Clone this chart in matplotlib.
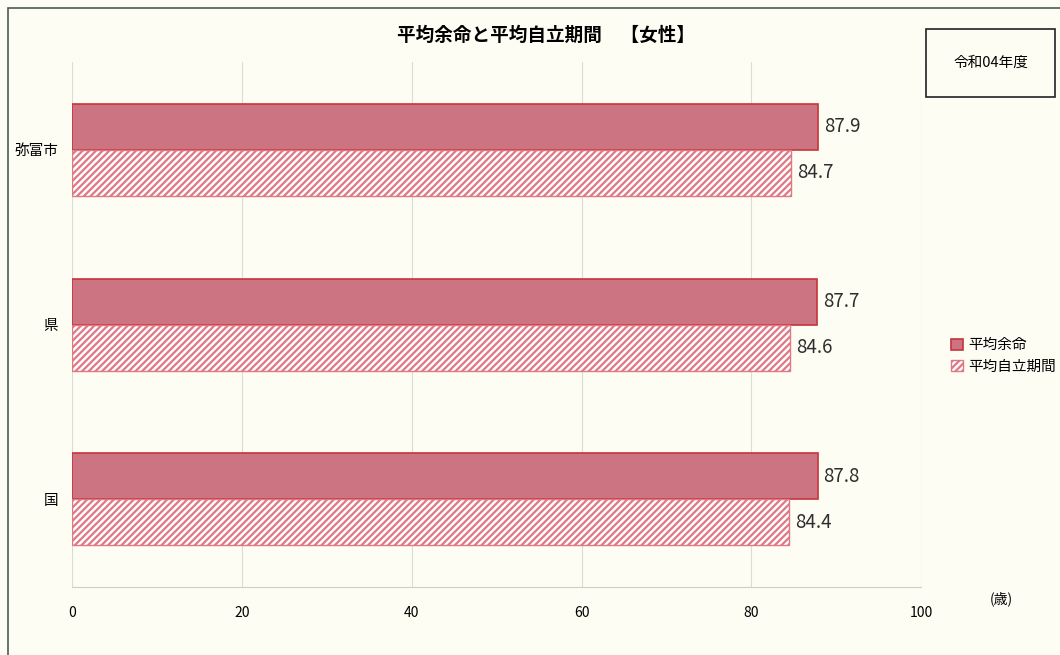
import matplotlib.pyplot as plt
import numpy as np
from matplotlib.patches import Rectangle

plt.rcParams['font.family'] = ['Noto Sans CJK JP', 'DejaVu Sans']
plt.rcParams['hatch.linewidth'] = 1.6

# データ
areas = ['弥富市', '県', '国']
life_exp = [87.9, 87.7, 87.8]      # 平均余命
indep_period = [84.7, 84.6, 84.4]  # 平均自立期間
series_names = ['平均余命', '平均自立期間']
x_ticks = [0, 20, 40, 60, 80, 100]

bg = '#fdfdf4'
fill_col = '#cd7483'
edge_col = '#c8343a'
hatch_col = '#e07884'

fig = plt.figure(figsize=(10.6, 6.55), dpi=100, facecolor=bg)
ax = fig.add_axes([0.068, 0.104, 0.801, 0.801], facecolor=bg)

y = np.arange(len(areas))
h = 0.263
b1 = ax.barh(y - h / 2, life_exp, height=h, color=fill_col, edgecolor=edge_col,
             linewidth=1.2, label=series_names[0])
b2 = ax.barh(y + h / 2, indep_period, height=h, color='white', edgecolor=hatch_col,
             hatch='/////', linewidth=1.0, label=series_names[1])

for bars in (b1, b2):
    for r in bars:
        ax.text(r.get_width() + 0.7, r.get_y() + r.get_height() / 2,
                f'{r.get_width():.1f}', va='center', ha='left', fontsize=13.5,
                color='#2e2e2e')

ax.set_ylim(len(areas) - 0.5, -0.5)
ax.set_xlim(0, 100)
ax.set_xticks(x_ticks)
ax.set_yticks(y)
ax.set_yticklabels(areas, fontsize=10.5)
ax.tick_params(axis='x', labelsize=10, length=0, pad=14)
ax.tick_params(axis='y', length=0, pad=10)
ax.grid(axis='x', color='#dcdcd6', linewidth=0.8)
ax.set_axisbelow(True)
for s in ['top', 'right', 'left']:
    ax.spines[s].set_visible(False)
ax.spines['bottom'].set_color('#cfcfc8')

# タイトル
fig.text(397 / 1060, 1 - 35 / 655, '平均余命と平均自立期間　【女性】', fontsize=13.4,
         fontweight='bold', ha='left', va='center')
fig.text(0.945, 0.0865, '(歳)', fontsize=10, ha='center', va='center')

leg = ax.legend(loc='center left', bbox_to_anchor=(1.035, 0.44), frameon=False,
                fontsize=10.5, handlelength=0.8, handleheight=0.8, handletextpad=0.4,
                labelspacing=0.5, borderaxespad=0, borderpad=0)

# 右上の年度ボックス
fig.patches.append(Rectangle((0.874, 0.852), 0.121, 0.103, transform=fig.transFigure,
                             fill=False, edgecolor='#222222', linewidth=1.2))
fig.text(0.9345, 0.9035, '令和04年度', fontsize=10.5, ha='center', va='center')

# 外枠
fig.patches.append(Rectangle((0.008, -0.01), 1.0, 0.998, transform=fig.transFigure,
                             fill=False, edgecolor='#4d5a50', linewidth=1.2))

fig.savefig('out.png', dpi=100, facecolor=bg)
